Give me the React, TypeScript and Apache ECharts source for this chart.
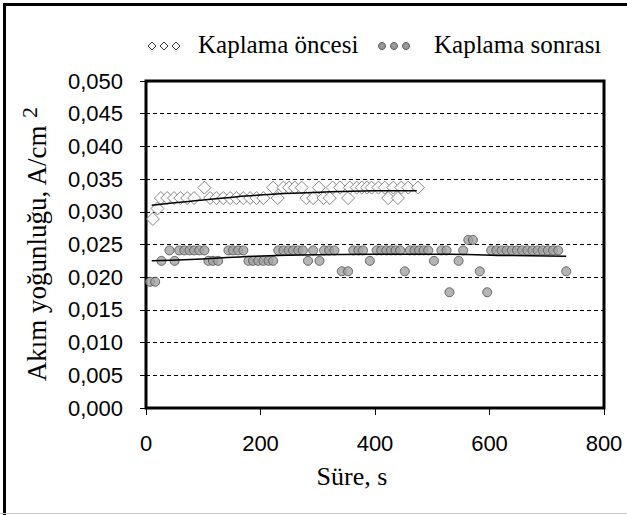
import React, { useEffect, useRef } from "react";
import * as echarts from "echarts";

// Kaplama öncesi (before coating) – time (s) and current density (A/cm2)
const beforeX = [12, 20, 26, 37, 49, 60, 72, 84, 102, 112, 123, 135, 147, 158, 170, 182, 193, 205, 222, 230, 240, 250, 260, 272, 280, 292, 302, 310, 321, 326, 339, 353, 356, 368, 377, 386, 394, 406, 417, 423, 432, 440, 446, 458, 475];
const beforeY = [0.0289, 0.0305, 0.0321, 0.0321, 0.0321, 0.0321, 0.0321, 0.0321, 0.0337, 0.0321, 0.0321, 0.0321, 0.0321, 0.0321, 0.0321, 0.0321, 0.0321, 0.0321, 0.0337, 0.0321, 0.0337, 0.0337, 0.0337, 0.0337, 0.0321, 0.0321, 0.0337, 0.0321, 0.0321, 0.0337, 0.0337, 0.0321, 0.0337, 0.0337, 0.0337, 0.0337, 0.0337, 0.0337, 0.0337, 0.0321, 0.0337, 0.0321, 0.0337, 0.0337, 0.0337];

// Kaplama sonrası (after coating)
const afterX = [7, 16, 27, 41, 50, 58, 67, 76, 84, 93, 102, 109, 117, 126, 144, 152, 161, 170, 179, 187, 196, 205, 214, 222, 231, 240, 249, 257, 266, 274, 283, 292, 303, 311, 320, 329, 342, 353, 362, 371, 379, 391, 403, 411, 420, 428, 436, 444, 452, 461, 469, 477, 485, 493, 503, 516, 525, 530, 546, 554, 563, 571, 583, 596, 603, 612, 621, 630, 639, 648, 657, 666, 675, 684, 693, 702, 711, 720, 734];
const afterY = [0.0193, 0.0193, 0.0225, 0.0241, 0.0225, 0.0241, 0.0241, 0.0241, 0.0241, 0.0241, 0.0241, 0.0225, 0.0225, 0.0225, 0.0241, 0.0241, 0.0241, 0.0241, 0.0225, 0.0225, 0.0225, 0.0225, 0.0225, 0.0225, 0.0241, 0.0241, 0.0241, 0.0241, 0.0241, 0.0241, 0.0225, 0.0241, 0.0225, 0.0241, 0.0241, 0.0241, 0.0209, 0.0209, 0.0241, 0.0241, 0.0241, 0.0225, 0.0241, 0.0241, 0.0241, 0.0241, 0.0241, 0.0241, 0.0209, 0.0241, 0.0241, 0.0241, 0.0241, 0.0241, 0.0225, 0.0241, 0.0241, 0.0177, 0.0225, 0.0241, 0.0257, 0.0257, 0.0209, 0.0177, 0.0241, 0.0241, 0.0241, 0.0241, 0.0241, 0.0241, 0.0241, 0.0241, 0.0241, 0.0241, 0.0241, 0.0241, 0.0241, 0.0241, 0.0209];

// Trend lines
const trendBeforeX = [10, 50, 100, 160, 222, 280, 340, 400, 473];
const trendBeforeY = [0.0310, 0.0314, 0.0318, 0.0323, 0.0327, 0.0329, 0.0331, 0.0332, 0.0332];
const trendAfterX = [10, 77, 164, 269, 400, 530, 640, 734];
const trendAfterY = [0.0225, 0.0227, 0.0231, 0.0234, 0.0235, 0.0235, 0.0233, 0.0232];

const seriesNames = ["Kaplama öncesi", "Kaplama sonrası"];
const xAxisName = "Süre, s";
const yAxisName = "Akım yoğunluğu, A/cm ";

const SERIF = "'Liberation Serif', 'Times New Roman', serif";
const SANS = "'Liberation Sans', Arial, sans-serif";

export default function App() {
  const ref = useRef<HTMLDivElement>(null);

  useEffect(() => {
    if (!ref.current) return;
    const chart = echarts.init(ref.current, undefined, { renderer: "svg" });

    const pair = (xs: number[], ys: number[]) => xs.map((x, i) => [x, ys[i]]);

    const diamond = (cx: number, cy: number, r: number) => ({
      type: "polygon",
      shape: { points: [[cx, cy - r], [cx + r, cy], [cx, cy + r], [cx - r, cy]] },
      style: { fill: "#fff", stroke: "#333", lineWidth: 1 },
    });
    const dot = (cx: number, cy: number) => ({
      type: "circle",
      shape: { cx, cy, r: 3.5 },
      style: { fill: "#999", stroke: "#555", lineWidth: 1 },
    });

    chart.setOption({
      animation: false,
      backgroundColor: "#fff",
      grid: {
        left: 146,
        top: 81,
        width: 458,
        height: 327,
        show: true,
        borderColor: "#000",
        borderWidth: 3,
        backgroundColor: "transparent",
      },
      xAxis: {
        type: "value",
        min: 0,
        max: 800,
        interval: 200,
        name: xAxisName,
        nameLocation: "middle",
        nameGap: 55,
        nameTextStyle: { fontFamily: SERIF, fontSize: 26, color: "#000", padding: [0, 46, 0, 0] },
        axisLine: { show: false },
        axisTick: { show: true, length: 7, lineStyle: { color: "#000", width: 1 } },
        axisLabel: { fontFamily: SANS, fontSize: 22, color: "#000", margin: 24 },
        splitLine: { show: false },
      },
      yAxis: {
        type: "value",
        min: 0,
        max: 0.05,
        interval: 0.005,
        name: "{b|" + yAxisName + "}{sup|2}",
        nameLocation: "middle",
        nameGap: 90,
        nameTextStyle: {
          fontFamily: SERIF,
          fontSize: 27,
          color: "#000",
          rich: {
            b: { fontFamily: SERIF, fontSize: 27, color: "#000", lineHeight: 38 },
            sup: { fontFamily: SERIF, fontSize: 22, color: "#000", verticalAlign: "top", lineHeight: 38 },
          },
        },
        axisLine: { show: false },
        axisTick: { show: true, length: 6, lineStyle: { color: "#000", width: 1 } },
        axisLabel: {
          fontFamily: SANS,
          fontSize: 22,
          color: "#000",
          margin: 23,
          formatter: (v: number) => v.toFixed(3).replace(".", ","),
        },
        splitLine: { show: true, lineStyle: { color: "#000", width: 1, type: [4, 3] } },
      },
      series: [
        {
          name: seriesNames[0],
          type: "scatter",
          symbol: "diamond",
          symbolSize: 13,
          itemStyle: { color: "#fff", borderColor: "#666", borderWidth: 1 },
          data: pair(beforeX, beforeY),
          z: 3,
        },
        {
          name: seriesNames[1],
          type: "scatter",
          symbol: "circle",
          symbolSize: 9,
          itemStyle: { color: "#a3a3a3", borderColor: "#4a4a4a", borderWidth: 1 },
          data: pair(afterX, afterY),
          z: 3,
        },
        {
          type: "line",
          data: pair(trendBeforeX, trendBeforeY),
          smooth: true,
          showSymbol: false,
          lineStyle: { color: "#000", width: 1.5 },
          z: 4,
        },
        {
          type: "line",
          data: pair(trendAfterX, trendAfterY),
          smooth: true,
          showSymbol: false,
          lineStyle: { color: "#000", width: 1.5 },
          z: 4,
        },
      ],
      graphic: [
        { type: "line", shape: { x1: 4.5, y1: 3, x2: 4.5, y2: 515 }, style: { stroke: "#000", lineWidth: 3 } },
        { type: "line", shape: { x1: 3, y1: 4.5, x2: 627, y2: 4.5 }, style: { stroke: "#000", lineWidth: 3 } },
        { type: "line", shape: { x1: 0, y1: 513.5, x2: 627, y2: 513.5 }, style: { stroke: "#c8c8c8", lineWidth: 1 } },
        diamond(152, 46, 4),
        diamond(164, 46, 4),
        diamond(176, 46, 4),
        {
          type: "text",
          x: 198,
          y: 44,
          style: { text: seriesNames[0], fontFamily: SERIF, fontSize: 25, fill: "#000", verticalAlign: "middle", align: "left" },
        },
        dot(382, 46),
        dot(394, 46),
        dot(406, 46),
        {
          type: "text",
          x: 434,
          y: 44,
          style: { text: seriesNames[1], fontFamily: SERIF, fontSize: 25, fill: "#000", verticalAlign: "middle", align: "left" },
        },
      ],
    });

    return () => chart.dispose();
  }, []);

  return (
    <div
      ref={ref}
      style={{ position: "absolute", left: 0, top: 0, width: 627, height: 515, background: "#fff" }}
    />
  );
}
